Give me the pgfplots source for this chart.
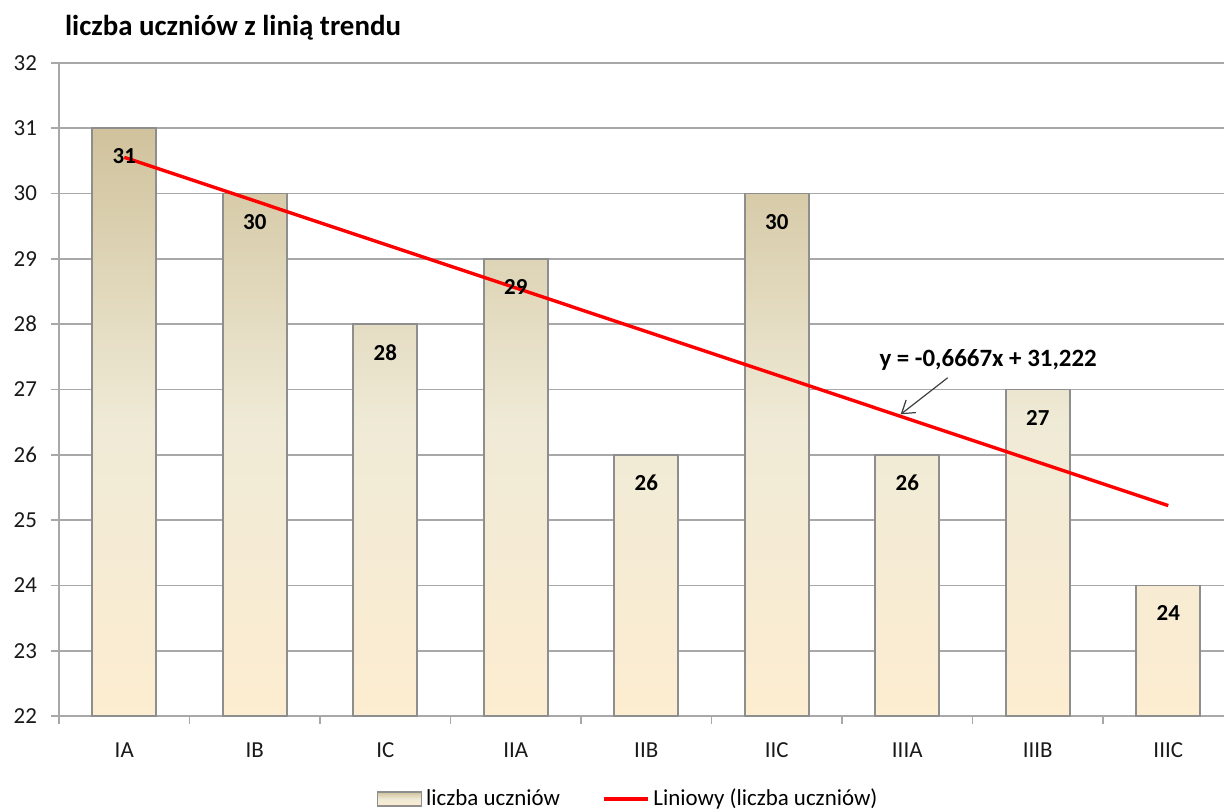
\documentclass[border=0pt]{standalone}
\usepackage{fontspec}
\setmainfont{Carlito}
\usepackage{pgfplots}
\pgfplotsset{compat=1.18}
\usetikzlibrary{arrows.meta}
\definecolor{bartop}{HTML}{D0C29C}
\definecolor{barmid}{HTML}{EFEAD6}
\definecolor{barbot}{HTML}{FDEDD1}
\definecolor{barleg}{HTML}{F6EDD6}
\definecolor{gridc}{HTML}{A8A8A8}
\definecolor{barborder}{HTML}{8E8E8E}
\begin{document}
\begin{tikzpicture}
\path[use as bounding box] (-29.5bp,-47.5bp) rectangle (582.5bp,358bp);
\begin{axis}[
  scale only axis, width=587.25bp, height=326.5bp,
  at={(0,0)}, anchor=south west, clip=false,
  xmin=0.5, xmax=9.5, ymin=22, ymax=32,
  ytick={22,...,32},
  xtick={1,...,9},
  xticklabels={IA,IB,IC,IIA,IIB,IIC,IIIA,IIIB,IIIC},
  minor xtick={0.5,1.5,...,9.5},
  axis x line*=bottom, axis y line*=left,
  axis line style={gridc, line width=1bp, -},
  ymajorgrids, major grid style={gridc, line width=0.8bp},
  tick align=outside,
  major x tick style={draw=none},
  minor x tick style={gridc, line width=0.8bp},
  major y tick style={gridc, line width=0.8bp},
  major tick length=4bp, minor tick length=4bp,
  tick label style={font=\fontsize{11.5}{13}\selectfont, text=black!90},
  /pgf/number format/assume math mode=true,
  xticklabel style={yshift=-6bp},
  yticklabel style={xshift=-3.5bp},
  legend style={at={(0,0)}, anchor=center, xshift=285bp, yshift=-41.5bp, draw=none,
    legend columns=2, font=\fontsize{11.5}{13}\selectfont,
    /tikz/every even column/.append style={column sep=19bp}},
  legend cell align=left,
]
\addplot[ybar, bar width=32bp, draw=barborder, line width=0.8bp,
  top color=bartop, bottom color=barbot, middle color=barmid,
  nodes near coords,
  every node near coord/.append style={anchor=center, yshift=-14bp,
    font=\bfseries\fontsize{11.5}{13}\selectfont, text=black},
  legend image code/.code={\draw[draw=barborder, line width=0.8bp, fill=barleg] (0bp,-3.5bp) rectangle (22bp,3.5bp);}
] coordinates {(1,31) (2,30) (3,28) (4,29) (5,26) (6,30) (7,26) (8,27) (9,24)};
\addlegendentry{liczba uczniów}
\addplot[red, line width=1.7bp, sharp plot,
  legend image code/.code={\draw[red, line width=1.7bp] (0bp,0bp) -- (22bp,0bp);}
] coordinates {(1,30.5553) (9,25.2217)};
\addlegendentry{Liniowy (liczba uczniów)}
\node[font=\bfseries\fontsize{12.5}{14}\selectfont] at (axis cs:7.62,27.45) {y = -0,6667x + 31,222};
\draw[-{Straight Barb[length=6bp,width=8bp]}, line width=0.6bp, black!75] (axis cs:7.31,27.18) -- (axis cs:6.95,26.62);
\node[anchor=west, font=\bfseries\fontsize{14.5}{16}\selectfont] at (rel axis cs:0,1) [xshift=-0.5bp, yshift=17.5bp] {liczba uczniów z linią trendu};
\end{axis}
\end{tikzpicture}
\end{document}
